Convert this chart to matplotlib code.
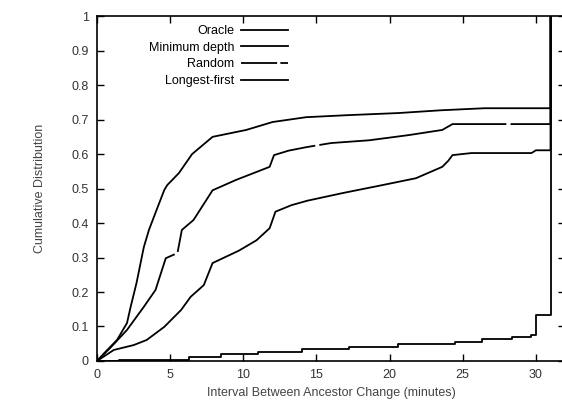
import numpy as np
import matplotlib.pyplot as plt
from matplotlib.lines import Line2D

plt.rcParams['font.family'] = ['Liberation Sans', 'DejaVu Sans']

# CDF curves (x in minutes, y cumulative fraction)
oracle_x = [0, 1.5, 6.3, 8.5, 11, 14, 17.2, 20.6, 24.5, 26.3, 28.4, 29.7, 30, 31, 31]
oracle_y = [0, 0.004, 0.012, 0.02, 0.026, 0.035, 0.041, 0.049, 0.056, 0.063, 0.07, 0.075, 0.133, 0.133, 1.0]

mindepth_x = [0, 1.15, 2.5, 3.4, 4.6, 5.75, 6.4, 7.3, 7.9, 9.7, 10.9, 11.8, 12.2, 13.3, 14.4, 16.8, 19.5,
              21.8, 23.6, 24.0, 24.3, 25.6, 29.7, 30.0, 31, 31]
mindepth_y = [0, 0.032, 0.046, 0.061, 0.099, 0.148, 0.186, 0.22, 0.284, 0.32, 0.35, 0.385, 0.433, 0.452, 0.465,
              0.487, 0.51, 0.53, 0.563, 0.58, 0.597, 0.603, 0.603, 0.611, 0.611, 1.0]

random_x = [0, 0.95, 2.05, 3.2, 4.0, 4.7, 5.5, 5.8, 6.6, 7.9, 9.5, 11.8, 12.1, 13.1, 14.3, 16.0, 18.6,
            21.3, 23.6, 24.3, 31, 31]
random_y = [0, 0.04, 0.09, 0.157, 0.206, 0.298, 0.313, 0.38, 0.409, 0.495, 0.525, 0.563, 0.597, 0.61, 0.62,
            0.632, 0.64, 0.655, 0.67, 0.687, 0.687, 1.0]

longest_x = [0, 0.5, 1.37, 2.05, 2.3, 2.7, 3.2, 3.55, 4.0, 4.6, 4.8, 5.6, 6.5, 7.9, 10.2, 12.0, 14.3,
             17.2, 20.6, 23.5, 26.5, 31, 31]
longest_y = [0, 0.023, 0.061, 0.11, 0.157, 0.226, 0.33, 0.38, 0.43, 0.496, 0.51, 0.545, 0.60, 0.65, 0.67,
             0.693, 0.707, 0.713, 0.719, 0.727, 0.733, 0.733, 1.0]

labels = ['Oracle', 'Minimum depth', 'Random', 'Longest-first']

fig = plt.figure(figsize=(5.62, 4.11), dpi=100)
ax = fig.add_axes([0.1726, 0.1217, 0.833, 0.839])

lw = 1.3
ax.plot(oracle_x, oracle_y, color='black', lw=lw, drawstyle='steps-post')
ax.plot(mindepth_x, mindepth_y, color='black', lw=lw)
ax.plot(random_x, random_y, color='black', lw=lw, linestyle=(30, (105, 2.3)))
ax.plot(longest_x, longest_y, color='black', lw=lw)

ax.set_xlim(0, 32)
ax.set_ylim(0, 1)
ax.set_xticks(np.arange(0, 31, 5))
ax.set_yticks(np.arange(0, 1.01, 0.1))
ax.set_yticklabels(['0', '0.1', '0.2', '0.3', '0.4', '0.5', '0.6', '0.7', '0.8', '0.9', '1'])
ax.tick_params(direction='in', top=True, right=True, length=5, width=1, labelsize=9, pad=6,
               labelcolor='#333333')
for s in ax.spines.values():
    s.set_linewidth(1.2)

ax.set_xlabel('Interval Between Ancestor Change (minutes)', fontsize=9, color='#444444', labelpad=4)
ax.set_ylabel('Cumulative Distribution', fontsize=9, color='#444444', labelpad=18)

handles = [Line2D([], [], color='black', lw=lw),
           Line2D([], [], color='black', lw=lw),
           Line2D([], [], color='black', lw=lw, linestyle=(0, (20, 1.8))),
           Line2D([], [], color='black', lw=lw)]
ax.legend(handles, labels, loc='upper left', bbox_to_anchor=(0.092, 1.0), frameon=False,
          markerfirst=False, fontsize=9, handlelength=3.8, handletextpad=0.5,
          labelspacing=0.38, borderaxespad=0.3)

fig.savefig('out.png', dpi=100)
